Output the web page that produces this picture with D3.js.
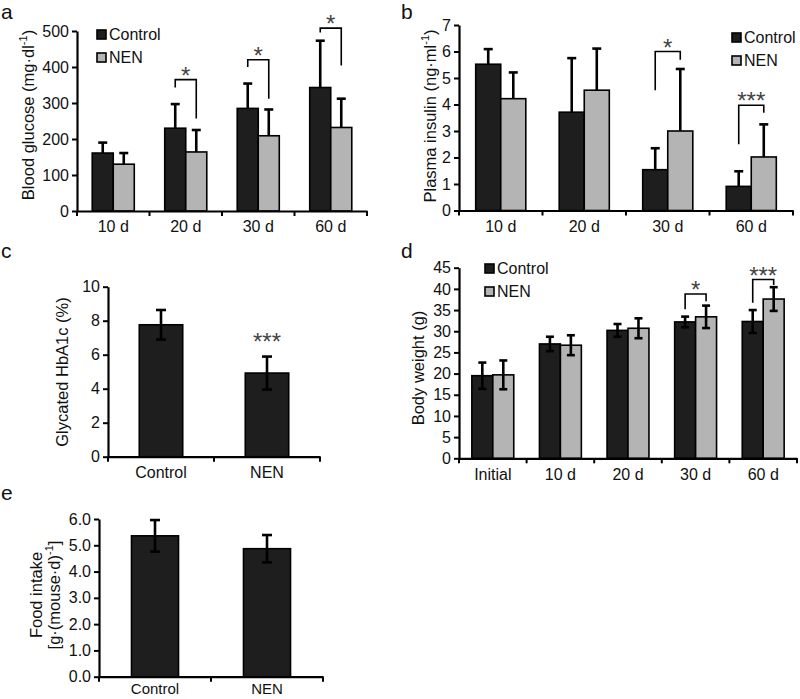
<!DOCTYPE html>
<html><head><meta charset="utf-8">
<script src="https://cdn.jsdelivr.net/npm/d3@7"></script>
<style>body{margin:0;background:#fff}</style>
</head><body>
<svg id="chart" width="800" height="699"></svg>
<script>
// ---------- DATA ----------
const timeCats = ["10 d", "20 d", "30 d", "60 d"];
const glucoseControl = [161, 230, 285, 343];
const glucoseControlSD = [29, 67, 69, 130];
const glucoseNEN = [130, 164, 209, 232];
const glucoseNENSD = [31, 61, 73, 80];
const glucoseTicks = [0, 100, 200, 300, 400, 500];
const glucoseSig = [
  {cat: "20 d", left: 343, top: 365, right: 257, label: "*"},
  {cat: "30 d", left: 400, top: 420, right: 312, label: "*"},
  {cat: "60 d", left: 496, top: 508, right: 404, label: "*"}
];

const insulinControl = [5.52, 3.71, 1.54, 0.91];
const insulinControlSD = [0.57, 2.04, 0.81, 0.57];
const insulinNEN = [4.22, 4.54, 3.0, 2.02];
const insulinNENSD = [0.99, 1.57, 2.34, 1.23];
const insulinTicks = [0, 1, 2, 3, 4, 5, 6, 7];
const insulinSig = [
  {cat: "30 d", left: 4.54, top: 6.0, right: 5.69, label: "*"},
  {cat: "60 d", left: 2.5, top: 3.97, right: 3.69, label: "***"}
];

const groupCats = ["Control", "NEN"];
const hba1c = [7.76, 4.92];
const hba1cSD = [0.87, 0.97];
const hba1cTicks = [0, 2, 4, 6, 8, 10];
const hba1cStars = ["", "***"];

const weightCats = ["Initial", "10 d", "20 d", "30 d", "60 d"];
const weightControl = [19.5, 27.0, 30.2, 32.2, 32.3];
const weightControlSD = [3.1, 1.7, 1.5, 1.25, 2.7];
const weightNEN = [19.7, 26.7, 30.7, 33.4, 37.6];
const weightNENSD = [3.4, 2.35, 2.35, 2.65, 2.8];
const weightTicks = [0, 5, 10, 15, 20, 25, 30, 35, 40, 45];
const weightSig = [
  {cat: "30 d", left: 35.2, top: 38.8, right: 37.1, label: "*"},
  {cat: "60 d", left: 36.7, top: 42.2, right: 40.9, label: "***"}
];

const food = [5.36, 4.87];
const foodSD = [0.6, 0.52];
const foodTicks = [0, 1, 2, 3, 4, 5, 6];

const seriesNames = ["Control", "NEN"];
const seriesColors = ["#1e1e1e", "#b4b4b4"];

// ---------- DRAWING ----------
const FONT = "'Liberation Sans', Arial, Helvetica, sans-serif";
const TICK_FONT = 16, LABEL_FONT = 16.5, STAR_FONT = 24;
const svg = d3.select("#chart").style("font-family", FONT);
svg.append("rect").attr("width", 800).attr("height", 699).attr("fill", "#fff");

function panel(o) {
  const g = svg.append("g");
  const x = d3.scaleBand().domain(o.cats).range([o.x0, o.x1]);
  const y = d3.scaleLinear().domain([0, o.ymax]).range([o.y0, o.y1]);
  const n = o.series.length;
  const bw = x.bandwidth() * o.barFrac;

  // bars & error bars
  o.series.forEach((s, si) => {
    const bx = c => x(c) + x.bandwidth() / 2 - n * bw / 2 + si * bw;
    const cx = c => bx(c) + bw / 2;
    const data = o.cats.map((c, i) => ({c, v: s.values[i], sd: s.sd[i]}));
    g.selectAll(null).data(data).enter().append("rect")
      .attr("x", d => bx(d.c)).attr("width", bw)
      .attr("y", d => y(d.v)).attr("height", d => y(0) - y(d.v))
      .attr("fill", s.color).attr("stroke", "#000").attr("stroke-width", 1.6);
    const lo = d => o.oneSided ? d.v : d.v - d.sd;
    g.selectAll(null).data(data).enter().append("line")
      .attr("x1", d => cx(d.c)).attr("x2", d => cx(d.c))
      .attr("y1", d => y(lo(d))).attr("y2", d => y(d.v + d.sd))
      .attr("stroke", "#000").attr("stroke-width", 2.6);
    g.selectAll(null).data(data).enter().append("line")
      .attr("x1", d => cx(d.c) - o.cap / 2).attr("x2", d => cx(d.c) + o.cap / 2)
      .attr("y1", d => y(d.v + d.sd)).attr("y2", d => y(d.v + d.sd))
      .attr("stroke", "#000").attr("stroke-width", 2.6);
    if (!o.oneSided) {
      g.selectAll(null).data(data).enter().append("line")
        .attr("x1", d => cx(d.c) - o.cap / 2).attr("x2", d => cx(d.c) + o.cap / 2)
        .attr("y1", d => y(d.v - d.sd)).attr("y2", d => y(d.v - d.sd))
        .attr("stroke", "#000").attr("stroke-width", 2.6);
    }
    if (s.stars) {
      g.selectAll(null).data(data.map((d, i) => ({...d, st: s.stars[i]})).filter(d => d.st)).enter()
        .append("text").attr("x", d => cx(d.c)).attr("y", d => y(d.v + d.sd) - 7)
        .attr("text-anchor", "middle").attr("font-size", STAR_FONT).attr("fill", "#444").text(d => d.st);
    }
  });

  // significance brackets
  if (o.sig) {
    const cxs = (c, si) => x(c) + x.bandwidth() / 2 - n * bw / 2 + si * bw + bw / 2;
    g.selectAll(null).data(o.sig).enter().append("path")
      .attr("d", d => `M${cxs(d.cat, 0)},${y(d.left)}V${y(d.top)}H${cxs(d.cat, 1)}V${y(d.right)}`)
      .attr("fill", "none").attr("stroke", "#000").attr("stroke-width", 1.6);
    g.selectAll(null).data(o.sig).enter().append("text")
      .attr("x", d => (cxs(d.cat, 0) + cxs(d.cat, 1)) / 2).attr("y", d => y(d.top) + 4)
      .attr("text-anchor", "middle").attr("font-size", STAR_FONT).attr("fill", "#444").text(d => d.label);
  }

  // y axis
  const ya = g.append("g").attr("transform", `translate(${o.x0},0)`)
    .call(d3.axisLeft(y).tickValues(o.yticks).tickSize(5).tickSizeOuter(0).tickPadding(3)
      .tickFormat(o.fmt || d3.format("d")));
  ya.select(".domain").attr("stroke-width", 2.2);
  ya.selectAll(".tick line").attr("stroke-width", 2);
  ya.selectAll("text").attr("font-size", TICK_FONT).attr("font-family", FONT).attr("fill", "#111");

  // x axis
  const xa = g.append("g").attr("transform", `translate(0,${o.y0})`)
    .call(d3.axisBottom(x).tickSize(0).tickSizeOuter(0).tickPadding(o.catPad || 10));
  xa.select(".domain").attr("stroke-width", 2.2);
  xa.selectAll("text").attr("font-size", o.catFont || TICK_FONT).attr("font-family", FONT).attr("fill", "#111");
  const bounds = o.cats.map(c => x(c)).concat([x.range()[1]]);
  g.selectAll(null).data(bounds).enter().append("line")
    .attr("x1", d => d).attr("x2", d => d).attr("y1", o.y0).attr("y2", o.y0 + 5)
    .attr("stroke", "#000").attr("stroke-width", 2);

  // y label
  const yl = g.append("text").attr("transform", `translate(${o.ylx},${o.yly}) rotate(-90)`)
    .attr("text-anchor", "middle").attr("font-size", LABEL_FONT).attr("fill", "#111");
  o.ylabel(yl);

  // legend
  if (o.legend) {
    o.series.forEach((s, si) => {
      g.append("rect").attr("x", o.legend[0]).attr("y", o.legend[1] + si * 23)
        .attr("width", 9).attr("height", 9).attr("fill", s.color).attr("stroke", "#000").attr("stroke-width", 1.6);
      g.append("text").attr("x", o.legend[0] + 12).attr("y", o.legend[1] + si * 23 + 10)
        .attr("font-size", TICK_FONT).attr("fill", "#111").text(s.name);
    });
  }
  // panel letter
  g.append("text").attr("x", o.letter[0]).attr("y", o.letter[1]).attr("font-size", 21).attr("fill", "#111").text(o.letter[2]);
}

function supLabel(main, unit) {
  return t => {
    t.append("tspan").text(main + " (" + unit);
    t.append("tspan").attr("dy", -7).attr("font-size", 11).text("-1");
    t.append("tspan").attr("dy", 7).text(")");
  };
}

panel({
  cats: timeCats, x0: 77, x1: 367, y0: 211, y1: 31, ymax: 500, yticks: glucoseTicks,
  barFrac: 0.29, cap: 9, oneSided: true,
  series: [
    {name: seriesNames[0], color: seriesColors[0], values: glucoseControl, sd: glucoseControlSD},
    {name: seriesNames[1], color: seriesColors[1], values: glucoseNEN, sd: glucoseNENSD}
  ],
  sig: glucoseSig, legend: [97, 30], letter: [1, 19, "a"],
  ylx: 34, yly: 115, ylabel: supLabel("Blood glucose", "mg·dl")
});

panel({
  cats: timeCats, x0: 459, x1: 793, y0: 210.5, y1: 25, ymax: 7, yticks: insulinTicks,
  barFrac: 0.3, cap: 9, oneSided: true,
  series: [
    {name: seriesNames[0], color: seriesColors[0], values: insulinControl, sd: insulinControlSD},
    {name: seriesNames[1], color: seriesColors[1], values: insulinNEN, sd: insulinNENSD}
  ],
  sig: insulinSig, legend: [732, 33], letter: [401, 19, "b"],
  ylx: 436, yly: 116, ylabel: supLabel("Plasma insulin", "ng·ml")
});

panel({
  cats: groupCats, x0: 108, x1: 320, y0: 456.7, y1: 286.7, ymax: 10, yticks: hba1cTicks,
  barFrac: 0.41, cap: 10, oneSided: false,
  series: [{name: "", color: seriesColors[0], values: hba1c, sd: hba1cSD, stars: hba1cStars}],
  letter: [1, 258, "c"],
  ylx: 68, yly: 372, ylabel: t => t.text("Glycated HbA1c (%)")
});

panel({
  cats: weightCats, x0: 459, x1: 797, y0: 458.3, y1: 267.7, ymax: 45, yticks: weightTicks,
  barFrac: 0.31, cap: 8, oneSided: false,
  series: [
    {name: seriesNames[0], color: seriesColors[0], values: weightControl, sd: weightControlSD},
    {name: seriesNames[1], color: seriesColors[1], values: weightNEN, sd: weightNENSD}
  ],
  sig: weightSig, legend: [485, 264], letter: [401, 258, "d"],
  ylx: 424, yly: 368, ylabel: t => t.text("Body weight (g)")
});

panel({
  cats: groupCats, x0: 99, x1: 323, y0: 676.7, y1: 519, ymax: 6, yticks: foodTicks,
  barFrac: 0.42, cap: 10, oneSided: false, fmt: d3.format(".1f"), catPad: 7, catFont: 15,
  series: [{name: "", color: seriesColors[0], values: food, sd: foodSD}],
  letter: [1, 500, "e"],
  ylx: 42, yly: 595, ylabel: t => {
    t.append("tspan").attr("x", 0).attr("dy", 0).text("Food intake");
    t.append("tspan").attr("x", 0).attr("dy", 18).text("[g·(mouse·d)");
    t.append("tspan").attr("dy", -7).attr("font-size", 11).text("-1");
    t.append("tspan").attr("dy", 7).text("]");
  }
});
</script>
</body></html>
